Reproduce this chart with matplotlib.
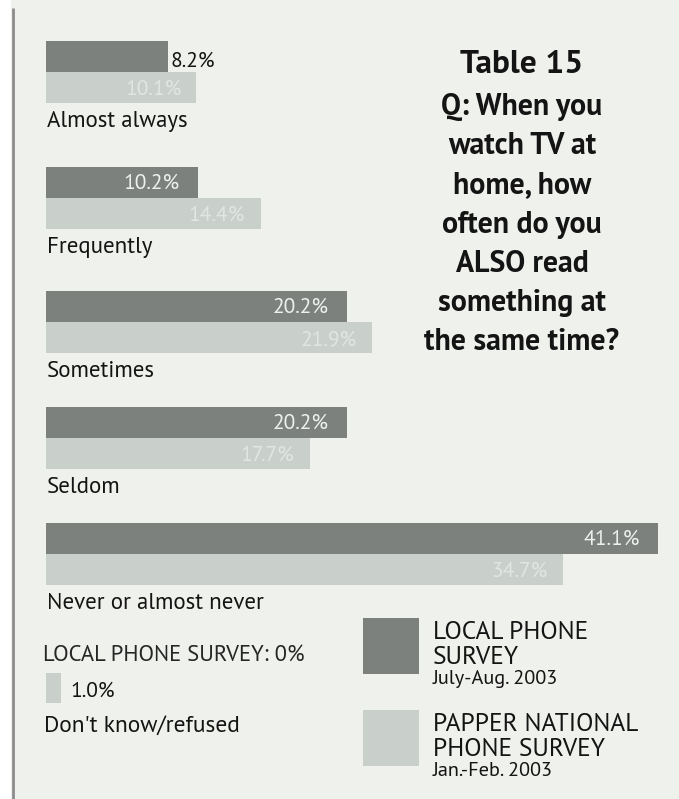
import matplotlib.pyplot as plt
from matplotlib.patches import Rectangle

categories = ['Almost always', 'Frequently', 'Sometimes', 'Seldom', 'Never or almost never']
local_phone = [8.2, 10.2, 20.2, 20.2, 41.1]
papper_national = [10.1, 14.4, 21.9, 17.7, 34.7]
dk_label = "Don't know/refused"
dk_local = 0.0
dk_papper = 1.0

title = 'Table 15'
question = ['Q: When you', 'watch TV at', 'home, how', 'often do you',
            'ALSO read', 'something at', 'the same time?']
legend_names = [['LOCAL PHONE', 'SURVEY'], ['PAPPER NATIONAL', 'PHONE SURVEY']]
legend_dates = ['July-Aug. 2003', 'Jan.-Feb. 2003']

DARK = '#7d817e'
LIGHT = '#c9cfcb'
BG = '#eff1ec'
INK = '#141414'

plt.rcParams['font.family'] = ['PT Sans', 'Open Sans', 'DejaVu Sans']

W, H = 679, 799
PPX = 14.9     # pixels per percent
X0 = 46        # pixel x of the zero line

fig = plt.figure(figsize=(W / 100, H / 100), dpi=100)
fig.patch.set_facecolor(BG)
ax = fig.add_axes([0, 0, 1, 1])
ax.set_xlim(-X0 / PPX, (W - X0) / PPX)
ax.set_ylim(H, 0)
ax.axis('off')


def px(x):
    return (x - X0) / PPX


# page margin and rule on the left
ax.add_patch(Rectangle((px(0), 0), px(11) - px(0), H, color='white', lw=0))
ax.plot([px(12.5), px(12.5)], [8, H], color='#8c8c8c', lw=2, solid_capstyle='butt')

tops = [41, 167, 291, 407, 523]
bh = 31
ax.barh([t + bh / 2 for t in tops], local_phone, height=bh, color=DARK, lw=0)
ax.barh([t + bh * 1.5 for t in tops], papper_national, height=bh, color=LIGHT, lw=0)

for t, cat, a, b in zip(tops, categories, local_phone, papper_national):
    if a < 9:
        ax.annotate(f'{a}%', (a, t + bh - 5), xytext=(2, 0), textcoords='offset points',
                    ha='left', va='baseline', fontsize=15.5, color=INK)
    else:
        ax.annotate(f'{a}%', (a, t + bh - 9), xytext=(-13, 0), textcoords='offset points',
                    ha='right', va='baseline', fontsize=15.5, color='#eef0ee')
    ax.annotate(f'{b}%', (b, t + 2 * bh - 8), xytext=(-11, 0), textcoords='offset points',
                ha='right', va='baseline', fontsize=15.5, color='#e2e6e2')
    ax.text(px(47), t + 2 * bh + 24, cat, ha='left', va='baseline', fontsize=16.5, color=INK)

# don't know / refused
ax.text(px(43), 661, f'LOCAL PHONE SURVEY: {dk_local:.0f}%', ha='left', va='baseline',
        fontsize=16.3, color='#262626')
ax.barh([688], [dk_papper], height=30, color=LIGHT, lw=0)
ax.text(px(70), 697, f'{dk_papper}%', ha='left', va='baseline', fontsize=15.5, color=INK)
ax.text(px(44), 732, dk_label, ha='left', va='baseline', fontsize=16.8, color=INK)

# title block
ax.text(px(522), 73, title, ha='center', va='baseline', fontsize=24, fontweight='bold', color=INK)
for i, line in enumerate(question):
    ax.text(px(522), 115 + i * 39.2, line, ha='center', va='baseline', fontsize=21.5,
            fontweight='bold', color=INK)

# legend
for sy, col, name, date in zip([618, 710], [DARK, LIGHT], legend_names, legend_dates):
    ax.add_patch(Rectangle((px(363), sy), px(419) - px(363), 56, color=col, lw=0))
    for j, part in enumerate(name):
        ax.text(px(433), sy + 21 + j * 25, part, ha='left', va='baseline', fontsize=18.3, color=INK)
    ax.text(px(433), sy + 66, date, ha='left', va='baseline', fontsize=14.6, color=INK)

fig.savefig('out.png', facecolor=BG)
